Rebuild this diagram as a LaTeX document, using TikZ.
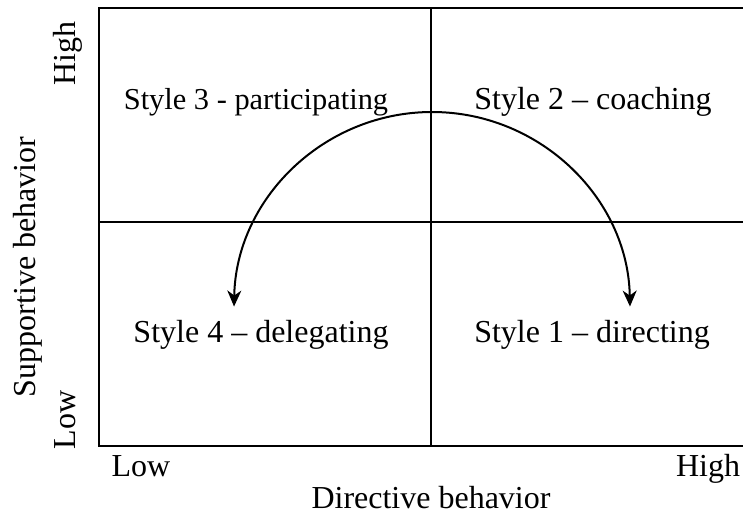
\documentclass[tikz,border=0pt]{standalone}
\usepackage{fontspec}
\setmainfont{Liberation Serif}
\usetikzlibrary{arrows.meta}
\begin{document}
\begin{tikzpicture}[x=1pt,y=-1pt,
  lbl/.style={font=\fontsize{32}{38}\selectfont, inner sep=0pt, anchor=base},
  rlbl/.style={lbl, rotate=90},
  boxline/.style={line width=2pt},
  arcline/.style={line width=2pt, {Stealth[length=16pt,width=14pt,inset=5pt]}-{Stealth[length=16pt,width=14pt,inset=5pt]}}]
\useasboundingbox (0,0) rectangle (743,516);
% frame
\coordinate (tr) at (745,8);
\coordinate (tl) at (99,8);
\coordinate (bl) at (99,446);
\coordinate (br) at (745,446);
\coordinate (mt) at (431,8);
\coordinate (mb) at (431,446);
\coordinate (ml) at (99,222);
\coordinate (mr) at (745,222);
\begin{scope}
\clip (0,0) rectangle (743,516);
\draw[boxline] (tr) -- (tl) -- (bl) -- (br);
\draw[boxline] (mt) -- (mb);
\draw[boxline] (ml) -- (mr);
\end{scope}
% quadrant labels
\node[lbl, font=\fontsize{30.4}{36}\selectfont] (s3) at (256,110) {Style 3 - participating};
\node[lbl] (s2) at (593,110) {Style 2 – coaching};
\node[lbl] (s4) at (261,342) {Style 4 – delegating};
\node[lbl] (s1) at (592,342) {Style 1 – directing};
% axis labels
\node[lbl] (xlow) at (141,476) {Low};
\node[lbl] (xhigh) at (708,476) {High};
\node[lbl] (xlab) at (431,508) {Directive behavior};
\node[rlbl] (yhigh) at (75,54) {High};
\node[rlbl] (ylow) at (75,420) {Low};
\node[rlbl] (ylab) at (35,267) {Supportive behavior};
% arc
\coordinate (arcR) at ({432+198*cos(1)},{310-198*sin(1)});
\draw[arcline] (arcR) arc[start angle=1, end angle=179, radius=198pt] coordinate (arcL);
\end{tikzpicture}
\end{document}
